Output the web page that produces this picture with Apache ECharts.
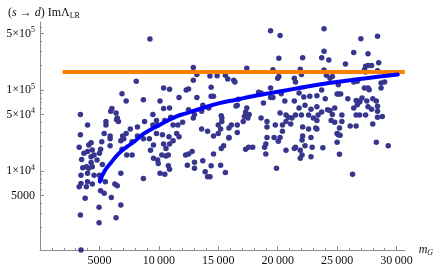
<!DOCTYPE html>
<html>
<head>
<meta charset="utf-8">
<script src="https://cdn.jsdelivr.net/npm/echarts@6/dist/echarts.min.js"></script>
<style>
html, body { margin: 0; padding: 0; background: #fff; }
#main { width: 436px; height: 269px; }
</style>
</head>
<body>
<div id="main"></div>
<script>
// scan points, [m_G, Im Lambda_LR]
var scatterPts = [
    [9250,426000],[8100,128000],[6900,90000],[7250,73000],[8700,76000],[10400,106000],[10900,102000],
    [11700,81000],[10100,73000],[10400,59000],[10900,60000],[9500,50000],[8800,41000],[8200,35000],
    [7600,33000],[7250,29000],[5950,54500],[6050,59000],[6400,52000],[6500,45000],[6600,41000],
    [6450,43000],[5550,41000],[5550,37000],[3400,50000],[4000,37000],[3400,28000],[5400,29000],
    [5900,27000],[5900,25000],[6950,27000],[7050,25000],[8200,27000],[8700,25000],[9200,25000],
    [9800,29000],[10300,28000],[10850,26500],[11500,29000],[11700,26500],[9800,42000],[9500,37000],
    [9900,37000],[10500,42000],[11000,46000],[11200,37000],[11600,37000],[12000,40000],[12300,100000],
    [19400,540000],[20200,470000],[20100,246000],[17400,185000],[19600,178000],[12900,189000],
    [12900,132000],[13200,155000],[14300,149000],[14900,150000],[15600,152000],[15800,137000],
    [16300,132000],[16400,126000],[20000,140000],[20100,147000],[21400,140000],[21500,126000],
    [12500,103000],[14400,108000],[14400,84000],[14600,84000],[13200,81000],[18400,94000],
    [18600,92000],[19400,106000],[19400,81000],[19600,81000],[20300,90000],[20600,73000],
    [21400,73000],[16700,77000],[16500,63500],[16600,65000],[17400,60000],[17300,53000],
    [17600,50000],[18800,69000],[14200,60000],[13700,65000],[12500,57000],[13000,50000],
    [12900,45000],[13600,54500],[15250,48000],[15300,45000],[15300,41000],[15000,37000],
    [15200,33000],[15900,34000],[16100,37000],[16600,37000],[17200,47000],[17500,45000],
    [17100,41000],[18600,45000],[19100,41000],[19100,35000],[19800,37000],[20400,37000],
    [20400,31000],[20200,52000],[20700,49000],[20900,46000],[21200,45000],[21500,49000],
    [20700,41000],[21100,38000],[13600,33000],[14100,31000],[14600,27000],[15000,29000],
    [15900,25500],[16600,30000],[19100,26000],[19700,26000],[20200,26000],
    [23900,570000],[28400,460000],[27000,430000],[23900,300000],[23700,250000],[24300,234000],
    [22100,250000],[26400,290000],[27600,280000],[25700,210000],[27400,196000],[27600,200000],
    [27900,200000],[28500,217000],[27300,178000],[27400,167000],[28400,173000],[21900,180000],
    [22000,155000],[23900,177000],[24100,152000],[24400,140000],[24600,147000],[25100,116000],
    [26400,126000],[26700,128000],[27300,106000],[27600,106000],[27700,101000],[28700,122000],
    [29000,126000],[28700,106000],[21800,92000],[22200,82000],[22700,84000],[23300,85000],
    [23700,100000],[24000,78000],[25000,89000],[25100,89000],[25300,89000],[25900,78000],
    [26600,74000],[26900,73000],[27100,79600],[27500,73000],[28000,78000],[28300,73000],
    [21800,60000],[22300,65000],[22800,58000],[23300,62000],[23700,53500],[24200,57000],
    [24400,56000],[24800,60000],[26400,60000],[26700,66000],[26900,71000],[27600,62000],
    [27900,58000],[28400,63000],[28400,54500],[22000,49000],[22600,49000],[23000,45000],
    [23400,49000],[24600,50000],[25400,49000],[26600,49000],[26900,49000],[27400,49000],
    [28400,46000],[28800,47000],[23300,42000],[24500,42000],[24800,40000],[25400,41000],
    [28000,38000],[22100,35000],[22600,33000],[23200,34000],[23300,33000],[25200,34000],
    [26100,36000],[26600,36000],[25000,29000],[25100,28000],[25250,27600],[22100,27000],
    [22800,26000],
    [3450,1060],[3400,2870],[4970,2300],[4970,3560],[6400,2650],[6800,3800],[3800,4600],
    [8700,8100],[6000,4700],[5400,5300],[5100,5700],[6300,6900],[6500,6600],[6800,9400],
    [5500,7400],[5100,7900],[3450,7000],[3300,6400],[3900,6400],[4000,7400],[4400,6900],
    [3450,8900],[4000,9400],[4550,8900],[5000,8900],[3600,11000],[3900,11300],[4100,10800],
    [4400,11300],[4300,12700],[4800,13700],[4300,15000],[4550,15800],[5000,16600],[5250,12000],
    [3500,13900],[3700,16600],[4000,17400],[4400,18200],[3300,19600],[4100,21000],[4300,22400],
    [5100,18600],[5200,23000],[5900,20500],[6800,23700],[7300,15800],[7750,15800],[7750,23000],
    [6900,18600],[9550,21000],[9300,18000],[9900,13700],[9950,12400],[9550,14400],[10250,15800],
    [10400,21500],[10600,19000],[10900,21500],[11200,23700],[10100,9400],[10500,9100],
    [10800,11600],[10900,10500],[10600,15300],[10800,15800],[12250,15800],
    [12500,16200],[12800,17400],[12400,11800],[13000,10800],[13000,12800],[13700,13400],
    [13900,9800],[14100,8500],[14300,8500],[14400,11600],[14600,16200],[15200,11800],
    [15600,9600],[15250,19000],[15450,20500],[15900,26000],[17300,18600],[17550,19600],
    [17900,19600],[18900,19600],[19000,21500],[19000,16200],[19900,10800],[20050,23300],
    [20700,18000],[21400,19000],
    [21500,19600],[21900,18000],[22050,15800],[21900,14400],[22300,20500],[22900,19600],
    [22800,15000],[23800,19400],[22050,24100],[25000,22600],[25200,16100],[26300,9100],
    [28300,22600],[29300,20500]
];

// blue fit curve
var curveMass = [5030, 5400, 5940, 6640, 7330, 8000, 8700, 10100, 11500, 12300, 13700, 15100,
                 16500, 17900, 19300, 21500, 24300, 27100, 30100];
var curveIm = [7400, 9800, 12500, 16500, 20000, 23500, 28700, 37300, 47300, 51500, 60000, 69000,
               76000, 83600, 91000, 104000, 122000, 138000, 155000];

// orange bound
var boundMass = [1900, 30700];
var boundIm = [167000, 167000];

var xMajor = [5000, 10000, 15000, 20000, 25000, 30000];
var xMinor = [1000, 2000, 3000, 4000, 6000, 7000, 8000, 9000, 11000, 12000, 13000, 14000,
              16000, 17000, 18000, 19000, 21000, 22000, 23000, 24000, 26000, 27000, 28000, 29000];
var yMajor = [5000, 10000, 50000, 100000, 500000];
var yMinor = [2000, 3000, 4000, 6000, 7000, 8000, 9000, 20000, 30000, 40000, 60000, 70000,
              80000, 90000, 200000, 300000, 400000, 600000];

var serif = "'Liberation Serif', 'DejaVu Serif', serif";
var axisGray = '#8c8c8c';

function zipPts(xs, ys) {
    return xs.map(function (x, i) { return [x, ys[i]]; });
}

function yLabel(v) {
    if (v < 10000) return String(v);
    var e = Math.round(Math.log10(v) - 0.35);
    var m = Math.round(v / Math.pow(10, e));
    return m + '×10{sup|' + e + '}';
}

function xLabel(v) {
    if (v < 10000) return String(v);
    return Math.floor(v / 1000) + '\u2009' + '000';
}

var chart = echarts.init(document.getElementById('main'));

chart.setOption({
    animation: false,
    backgroundColor: '#fff',
    title: {
        text: '({i|s} → {i|d}) ImΛ{sub|LR}',
        left: 3,
        top: 1,
        textStyle: {
            fontFamily: serif, fontSize: 12, fontWeight: 'normal', color: '#111',
            rich: {
                i: { fontFamily: serif, fontSize: 12, fontStyle: 'italic', color: '#111' },
                sub: { fontFamily: serif, fontSize: 8, color: '#111', padding: [6, 0, 0, 0] }
            }
        }
    },
    grid: { left: 40, right: 28, top: 22, bottom: 19, containLabel: false },
    xAxis: [
        {
            type: 'value',
            min: 0,
            max: 30700,
            name: '{i|m}{sub|G}',
            nameLocation: 'end',
            nameGap: 8,
            nameTextStyle: {
                verticalAlign: 'middle',
                rich: {
                    i: { fontFamily: serif, fontSize: 12, fontStyle: 'italic', color: '#111' },
                    sub: { fontFamily: serif, fontSize: 8, fontStyle: 'italic', color: '#111', padding: [6, 0, 0, 0] }
                }
            },
            axisLine: { show: true, onZero: false, lineStyle: { color: axisGray, width: 1 } },
            axisTick: { show: true, inside: true, length: 4, customValues: xMajor, lineStyle: { color: axisGray } },
            axisLabel: { customValues: xMajor, formatter: xLabel, margin: 5, fontFamily: serif, fontSize: 12, color: '#111' },
            splitLine: { show: false }
        },
        {
            type: 'value',
            min: 0,
            max: 30700,
            position: 'bottom',
            axisLine: { show: false },
            axisTick: { show: true, inside: true, length: 2, customValues: xMinor, lineStyle: { color: axisGray } },
            axisLabel: { show: false },
            splitLine: { show: false }
        }
    ],
    yAxis: [
        {
            type: 'log',
            logBase: 10,
            min: 1060,
            max: 691000,
            axisLine: { show: true, onZero: false, lineStyle: { color: axisGray, width: 1 } },
            axisTick: { show: true, inside: true, length: 4, customValues: yMajor, lineStyle: { color: axisGray } },
            axisLabel: {
                customValues: yMajor, formatter: yLabel, margin: 5,
                fontFamily: serif, fontSize: 12, color: '#111',
                rich: { sup: { fontFamily: serif, fontSize: 8, color: '#111', padding: [0, 0, 6, 0] } }
            },
            splitLine: { show: false }
        },
        {
            type: 'log',
            logBase: 10,
            min: 1060,
            max: 691000,
            position: 'left',
            axisLine: { show: false },
            axisTick: { show: true, inside: true, length: 2, customValues: yMinor, lineStyle: { color: axisGray } },
            axisLabel: { show: false },
            splitLine: { show: false }
        }
    ],
    series: [
        {
            type: 'scatter',
            data: scatterPts,
            symbolSize: 5.5,
            itemStyle: { color: '#36368f', opacity: 1 }
        },
        {
            type: 'line',
            data: zipPts(boundMass, boundIm),
            showSymbol: false,
            lineStyle: { color: '#ff8000', width: 4 }
        },
        {
            type: 'line',
            data: zipPts(curveMass, curveIm),
            smooth: true,
            showSymbol: false,
            lineStyle: { color: '#0000ff', width: 4, cap: 'round' }
        }
    ]
});
</script>
</body>
</html>
